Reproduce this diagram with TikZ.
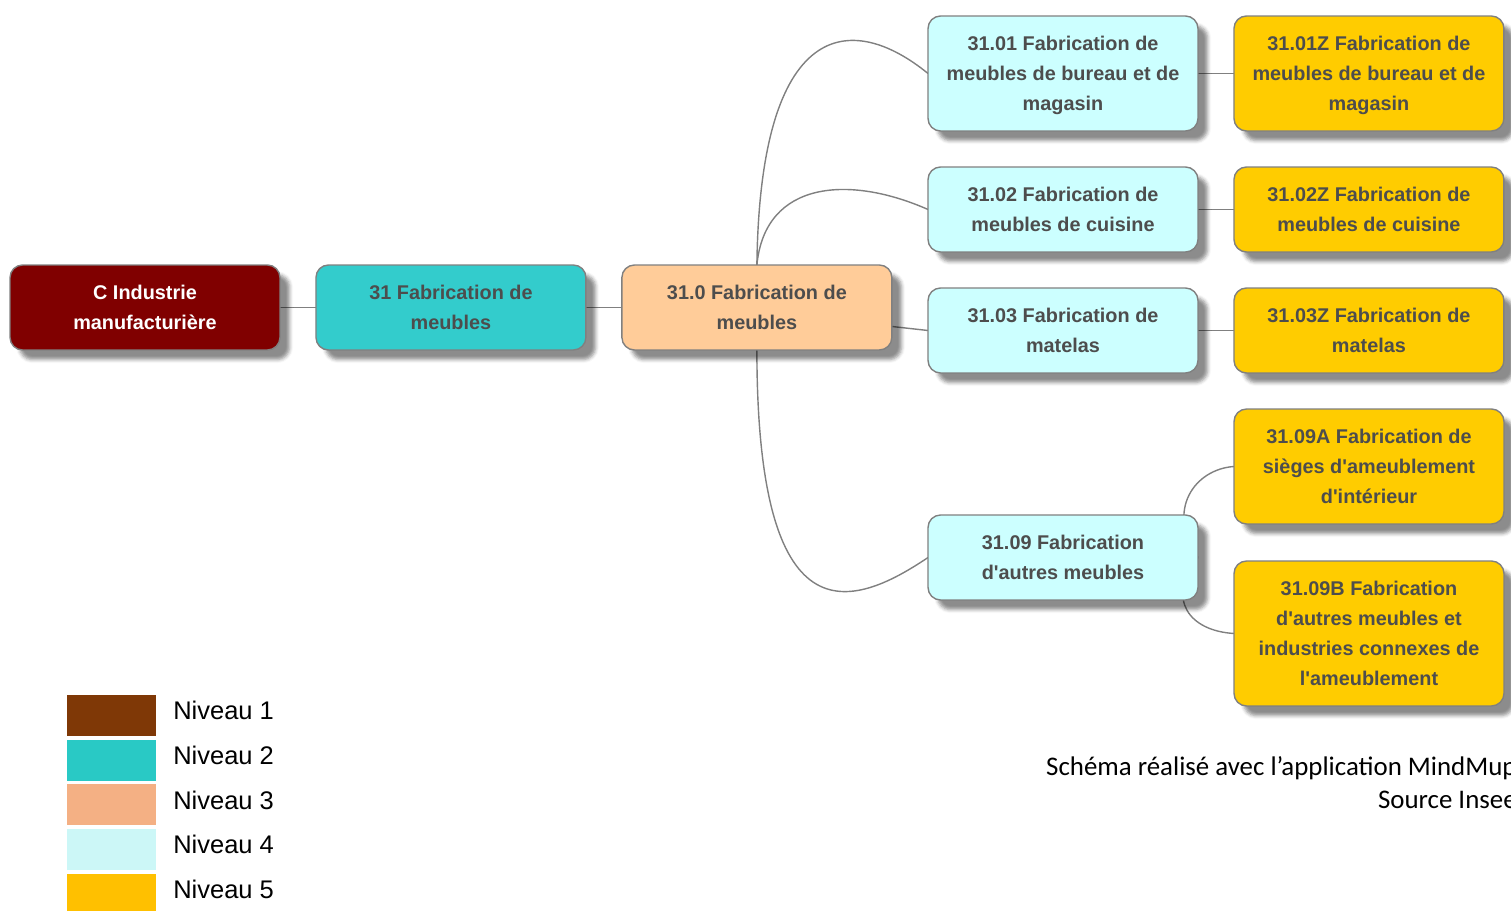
\documentclass[tikz,border=0pt]{standalone}
\usepackage{fontspec}
\setmainfont{Liberation Sans}[Ligatures=TeXOff]
\newfontfamily\carlito{Carlito}
\usetikzlibrary{
	positioning, backgrounds, shadows.blur
}
\definecolor{niveauA}{HTML}{800000}
\definecolor{niveauB}{HTML}{33CCCC}
\definecolor{niveauC}{HTML}{FFCC99}
\definecolor{niveauD}{HTML}{CCFFFF}
\definecolor{niveauE}{HTML}{FFCC00}
\definecolor{legendeA}{HTML}{7F3806}
\definecolor{legendeB}{HTML}{29C9C5}
\definecolor{legendeC}{HTML}{F4B084}
\definecolor{legendeD}{HTML}{CCF7F7}
\definecolor{legendeE}{HTML}{FFC000}
\definecolor{textegris}{HTML}{4D4D4D}
\definecolor{bordgris}{HTML}{808080}
\tikzset{
	rubrique/.style={
    rectangle,
    rounded corners=0.25cm,
    draw=bordgris,
    line width=0.8pt,
    minimum width=5.4cm,
    minimum height=1.7cm,
    inner sep=0pt,
    outer sep=0pt,
    align=center,
    text depth=0pt,
    text=textegris,
    font=\bfseries\fontsize{11.3}{17}\selectfont,
    blur shadow={shadow xshift=5.5pt, shadow yshift=-5.5pt,
      shadow blur radius=2pt, shadow opacity=45}},
  niv1/.style={rubrique, fill=niveauA, text=white},
  niv2/.style={rubrique, fill=niveauB},
  niv3/.style={rubrique, fill=niveauC},
  niv4/.style={rubrique, fill=niveauD},
  niv5/.style={rubrique, fill=niveauE},
  trois/.style={minimum height=2.3cm},
  quatre/.style={minimum height=2.9cm},
  lien/.style={draw=bordgris, line width=0.8pt},
  carre/.style={
    rectangle,
    minimum width=1.78cm,
    minimum height=0.82cm,
    inner sep=0pt,
    outer sep=0pt},
  legtexte/.style={inner sep=0pt, font=\fontsize{14.5}{17}\selectfont},
  credit/.style={inner sep=0pt, align=right, font=\carlito\fontsize{15.3}{19}\selectfont},
}

\begin{document}
\begin{tikzpicture}[x=0.02cm, y=-0.02cm, node distance=0.72cm]
	\useasboundingbox (0,0) rectangle (1511,911);

	% arbre
	\node [niv1] (c) at (145,307.5) {C Industrie\\manufacturière};
	\node [niv2, right=of c] (n31) {31 Fabrication de\\meubles};
	\node [niv3, right=of n31] (n310) {31.0 Fabrication de\\meubles};

	\node [niv4, trois] (n3101) at (1063,73.5) {31.01 Fabrication de\\meubles de bureau et de\\magasin};
	\node [niv4] (n3102) at (1063,209.5) {31.02 Fabrication de\\meubles de cuisine};
	\node [niv4] (n3103) at (1063,330.5) {31.03 Fabrication de\\matelas};
	\node [niv4] (n3109) at (1063,557.5) {31.09 Fabrication\\d'autres meubles};

	\node [niv5, trois, right=of n3101] (n3101z) {31.01Z Fabrication de\\meubles de bureau et de\\magasin};
	\node [niv5, right=of n3102] (n3102z) {31.02Z Fabrication de\\meubles de cuisine};
	\node [niv5, right=of n3103] (n3103z) {31.03Z Fabrication de\\matelas};
	\node [niv5, trois] (n3109a) at (1369,466.5) {31.09A Fabrication de\\sièges d'ameublement\\d'intérieur};
	\node [niv5, quatre] (n3109b) at (1369,633.5) {31.09B Fabrication\\d'autres meubles et\\industries connexes de\\l'ameublement};

	\begin{pgfonlayer}{background}
	\draw [lien] (c.east) -- (n31.west);
	\draw [lien] (n31.east) -- (n310.west);
	\draw [lien] (n310.north) .. controls (760,20) and (850,10) .. (n3101.west);
	\draw [lien] (n310.north) .. controls (765,180) and (850,175) .. (n3102.west);
	\draw [lien] ([yshift=-0.38cm]n310.east) -- (n3103.west);
	\draw [lien] (n310.south) .. controls (757,640) and (850,610) .. (n3109.west);
	\draw [lien] (n3101.east) -- (n3101z.west);
	\draw [lien] (n3102.east) -- (n3102z.west);
	\draw [lien] (n3103.east) -- (n3103z.west);
	\draw [lien] (n3109.east) .. controls (1165,510) and (1195,469) .. (n3109a.west);
	\draw [lien] (n3109.east) .. controls (1165,600) and (1190,631) .. (n3109b.west);
	\end{pgfonlayer}

	% legende
	\node [carre, fill=legendeA] (leg1) at (111.5,715.5) {};
	\node [carre, fill=legendeB, below=0.075cm of leg1] (leg2) {};
	\node [carre, fill=legendeC, below=0.075cm of leg2] (leg3) {};
	\node [carre, fill=legendeD, below=0.075cm of leg3] (leg4) {};
	\node [carre, fill=legendeE, below=0.075cm of leg4] (leg5) {};
	\node [legtexte, right=0.34cm of leg1, yshift=0.1cm] (niv1txt) {Niveau 1};
	\node [legtexte, right=0.34cm of leg2, yshift=0.1cm] (niv2txt) {Niveau 2};
	\node [legtexte, right=0.34cm of leg3, yshift=0.1cm] (niv3txt) {Niveau 3};
	\node [legtexte, right=0.34cm of leg4, yshift=0.1cm] (niv4txt) {Niveau 4};
	\node [legtexte, right=0.34cm of leg5, yshift=0.1cm] (niv5txt) {Niveau 5};

	\node [credit, anchor=north east] (source) at (1517,756) {Schéma réalisé avec l’application MindMup\\Source Insee};
\end{tikzpicture}
\end{document}
